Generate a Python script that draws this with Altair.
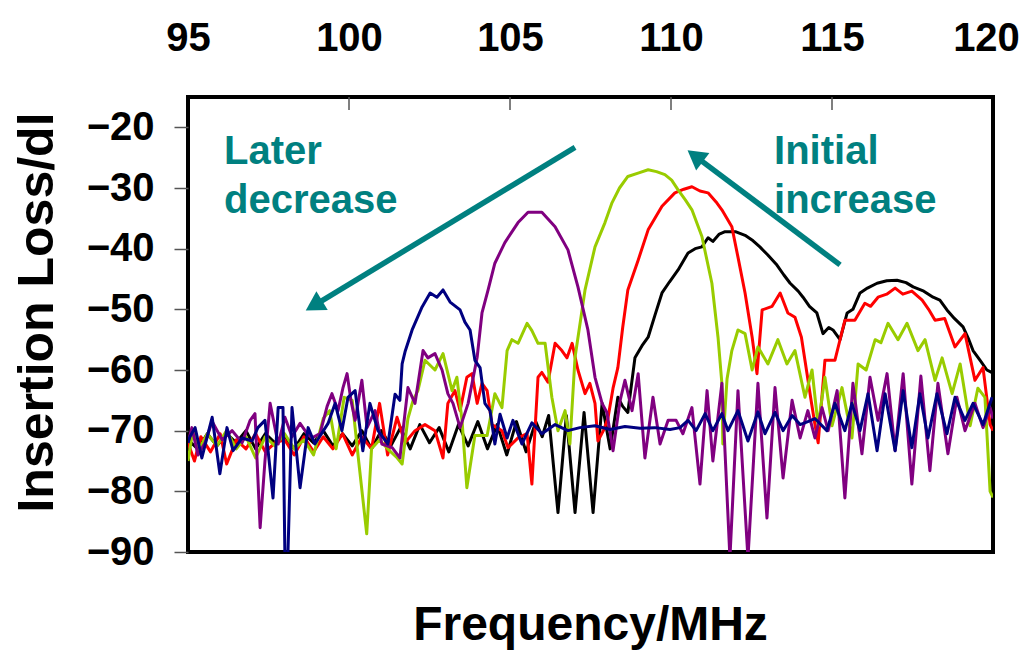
import altair as alt
import pandas as pd

# ---- data (frequency MHz, insertion loss dB) ----
BLACK = [(95.0,-71.5),(95.3,-73),(95.6,-70.5),(95.9,-72.5),(96.2,-70.5),(96.5,-72),(96.8,-70),(97.1,-73),(97.4,-70.5),(97.7,-72),(98.0,-71),(98.3,-73),(98.6,-70.5),(98.9,-72),(99.2,-70),(99.5,-72.5),(99.8,-70.5),(100.1,-72.5),(100.4,-70),(100.7,-73),(101.0,-70),(101.3,-72.5),(101.6,-69.5),(101.9,-73),(102.2,-69),(102.5,-72),(102.8,-69.5),(103.1,-73.5),(103.4,-69),(103.7,-72.5),(104.0,-68.5),(104.3,-73),(104.6,-69),(104.9,-74),(105.2,-68.5),(105.5,-73.5),(105.8,-68.5),(106.0,-71),(106.2,-67.5),(106.49,-83.5),(106.75,-67.5),(107.02,-83.5),(107.3,-67),(107.58,-83.5),(107.86,-65.5),(108.11,-73),(108.35,-64.5),(108.5,-66),(108.66,-67),(108.88,-58),(109.1,-56),(109.29,-54.6),(109.5,-51),(109.72,-47.3),(109.95,-45.5),(110.22,-43.5),(110.53,-40.7),(110.75,-40),(110.96,-39.7),(111.15,-38.2),(111.3,-38.8),(111.5,-37.6),(111.68,-37.2),(112.0,-37.2),(112.3,-37.8),(112.55,-38.7),(112.76,-39.7),(113.0,-41),(113.29,-42.7),(113.5,-44.3),(113.7,-45.7),(113.95,-47),(114.1,-48),(114.3,-49.5),(114.53,-50.6),(114.72,-54),(114.9,-53),(115.03,-53.4),(115.25,-55),(115.47,-50.6),(115.65,-50),(115.87,-47.3),(116.1,-46.5),(116.4,-45.7),(116.7,-45.3),(117.02,-45.2),(117.3,-45.6),(117.52,-46.3),(117.85,-47),(118.14,-48),(118.35,-48.5),(118.57,-50.1),(118.8,-51.5),(119.07,-52.9),(119.25,-55),(119.38,-56.8),(119.6,-58.4),(119.81,-60),(120.0,-60.5)]

RED = [(95.0,-72),(95.2,-75),(95.4,-71),(95.7,-73.5),(96.0,-70.5),(96.2,-75.5),(96.5,-71.5),(96.8,-73),(97.1,-70.5),(97.4,-73.5),(97.7,-72),(98.0,-71.5),(98.3,-74),(98.6,-71),(98.9,-73.5),(99.2,-71),(99.5,-73),(99.8,-70.5),(100.1,-74),(100.4,-71),(100.7,-73),(100.95,-65.5),(101.2,-74),(101.49,-67.8),(101.74,-72),(102.05,-70),(102.36,-69),(102.67,-70),(102.92,-74.5),(103.07,-65.5),(103.29,-63.4),(103.45,-66.7),(103.66,-61.2),(103.82,-60.6),(103.98,-65.5),(104.13,-62.2),(104.29,-63.4),(104.44,-69),(104.75,-70),(104.94,-72.8),(105.25,-71.2),(105.53,-70.5),(105.68,-78.8),(105.87,-61.2),(105.99,-60.4),(106.18,-62),(106.4,-55.6),(106.61,-56.8),(106.77,-58),(106.93,-55.6),(107.11,-60),(107.33,-63.9),(107.48,-62.2),(107.64,-65.5),(107.73,-71.7),(107.9,-70),(108.04,-68),(108.2,-63),(108.35,-59.6),(108.5,-53),(108.66,-46.8),(108.98,-41.9),(109.29,-36.9),(109.72,-33),(110.12,-30.8),(110.4,-30.2),(110.65,-29.8),(110.9,-30.5),(111.15,-30.8),(111.4,-32.3),(111.58,-33.6),(111.89,-36.4),(112.08,-41.4),(112.3,-47.3),(112.52,-54.6),(112.67,-60.6),(112.83,-50.1),(113.14,-49.5),(113.39,-47.3),(113.63,-50.6),(113.85,-51.3),(114.05,-54.6),(114.16,-58.4),(114.35,-65),(114.47,-69),(114.57,-72),(114.78,-58.4),(115.09,-58.4),(115.4,-51.8),(115.71,-51.8),(116.02,-49),(116.2,-49.5),(116.43,-48),(116.7,-47.5),(116.96,-46.5),(117.2,-47.5),(117.48,-47),(117.8,-48.5),(118.0,-50),(118.2,-51.8),(118.5,-51.5),(118.82,-56.2),(119.13,-54),(119.44,-61.7),(119.69,-59.6),(119.91,-69),(120.0,-70)]

GREEN = [(95.0,-75),(95.15,-70),(95.35,-73),(95.6,-70.5),(95.9,-72.5),(96.2,-70),(96.5,-73),(96.8,-71),(97.1,-74.5),(97.4,-71),(97.7,-72.5),(98.0,-70.5),(98.3,-73),(98.6,-71.5),(98.9,-74),(99.2,-68),(99.4,-66.7),(99.6,-73),(99.85,-64.5),(100.1,-65),(100.3,-75),(100.55,-87),(100.7,-73),(100.95,-71.5),(101.2,-73),(101.5,-74.5),(101.65,-75.5),(101.83,-68),(101.99,-65),(102.14,-63.4),(102.36,-58.4),(102.67,-60),(102.92,-57.3),(103.2,-63.4),(103.35,-61.2),(103.51,-68.3),(103.66,-79.4),(103.91,-70.8),(104.29,-70.8),(104.53,-63.9),(104.75,-66.2),(104.91,-56.8),(105.06,-55),(105.25,-55.6),(105.53,-52.3),(105.68,-53.5),(105.87,-55.6),(106.09,-55.6),(106.3,-64.5),(106.49,-70),(106.71,-66.7),(106.86,-72.2),(107.02,-57.9),(107.33,-46.8),(107.64,-39.7),(107.95,-35.7),(108.17,-32.4),(108.4,-30),(108.66,-28.1),(109.0,-27.5),(109.29,-27),(109.55,-27.3),(109.81,-27.8),(110.02,-28.7),(110.22,-30.3),(110.45,-32),(110.65,-33.6),(110.96,-38),(111.27,-45.7),(111.46,-54.6),(111.58,-62.2),(111.61,-72.2),(111.74,-61.5),(111.89,-56.8),(112.08,-53.4),(112.3,-54),(112.52,-60),(112.7,-56.2),(113.01,-59),(113.32,-55),(113.6,-59),(113.85,-56.8),(114.16,-64.5),(114.38,-60),(114.57,-69.2),(114.78,-61.2),(115.0,-69.2),(115.31,-62.9),(115.62,-71.2),(115.81,-59),(116.06,-60),(116.34,-55),(116.52,-55.5),(116.74,-52.3),(117.05,-55),(117.33,-52.3),(117.67,-56.8),(117.89,-55),(118.2,-61.7),(118.42,-58),(118.73,-63.9),(118.98,-59),(119.29,-69.2),(119.53,-63),(119.75,-64.5),(119.91,-80),(120.0,-81)]

PURPLE = [(95.0,-72),(95.12,-69.5),(95.31,-74),(95.53,-72),(95.75,-68.5),(96.06,-71.5),(96.37,-70),(96.68,-72),(96.93,-68.3),(97.08,-67.2),(97.24,-86),(97.39,-75),(97.55,-65.5),(97.8,-72.2),(98.01,-67.8),(98.23,-71),(98.48,-68.8),(98.7,-70.5),(98.85,-71.2),(99.1,-70.5),(99.32,-66),(99.47,-63.9),(99.66,-66.7),(99.81,-63),(99.94,-60.6),(100.06,-65),(100.19,-68.3),(100.4,-61.7),(100.56,-69.5),(100.81,-66.7),(101.02,-72.2),(101.34,-72.8),(101.58,-74.5),(101.83,-62.9),(102.05,-65.5),(102.3,-56.8),(102.45,-58),(102.67,-57.3),(102.89,-60),(103.07,-63.9),(103.23,-65.5),(103.45,-69.5),(103.7,-65.5),(103.98,-57.9),(104.13,-50.6),(104.32,-46.8),(104.53,-42.4),(104.84,-39),(105.25,-35.7),(105.56,-34),(105.99,-34),(106.4,-36.4),(106.8,-40.2),(107.11,-46.3),(107.42,-53.4),(107.64,-61.2),(107.86,-65.5),(108.01,-67),(108.2,-73.3),(108.42,-65),(108.57,-61.7),(108.79,-66.7),(108.98,-60.6),(109.19,-74.5),(109.44,-64.5),(109.66,-72.2),(109.91,-68.3),(110.16,-68.3),(110.37,-70.5),(110.65,-66.2),(110.9,-78.8),(111.12,-63.4),(111.3,-75),(111.58,-62.2),(111.83,-91),(112.08,-63.4),(112.39,-91),(112.7,-62.2),(112.98,-84.4),(113.23,-62.9),(113.48,-77.8),(113.76,-65),(114.01,-71.2),(114.25,-66.7),(114.47,-71.2),(114.69,-66.2),(114.88,-70),(115.16,-63.4),(115.4,-81.1),(115.65,-62.2),(115.93,-73.8),(116.18,-61.2),(116.43,-68.3),(116.71,-60.6),(116.96,-73.3),(117.21,-60.6),(117.48,-78.8),(117.76,-61),(118.04,-76.6),(118.29,-62.2),(118.6,-73.8),(118.88,-64.5),(119.13,-70),(119.44,-65.5),(119.69,-69.5),(119.91,-66.2),(120.0,-68)]

NAVY = [(95.0,-72),(95.06,-71),(95.22,-69.5),(95.43,-74.5),(95.75,-67.8),(95.99,-77.1),(96.21,-69.5),(96.4,-73.3),(96.68,-71.2),(96.99,-71.7),(97.17,-69.5),(97.39,-68.3),(97.64,-81.1),(97.8,-66.2),(97.95,-66.2),(98.01,-91),(98.1,-91),(98.23,-66.2),(98.48,-79.4),(98.73,-69.5),(98.94,-72.2),(99.35,-68.8),(99.57,-65.5),(99.78,-70),(99.97,-64.5),(100.19,-63.4),(100.43,-73.3),(100.65,-65.5),(100.9,-70),(101.21,-72.2),(101.43,-64),(101.58,-65),(101.65,-59),(101.74,-57),(101.96,-53.4),(102.27,-49.6),(102.52,-47.3),(102.73,-48),(102.92,-46.8),(103.14,-48.8),(103.45,-50.1),(103.6,-52.1),(103.76,-53.4),(103.91,-58.4),(104.07,-59.6),(104.22,-65.5),(104.38,-66.7),(104.53,-72.2),(104.69,-67.3),(104.91,-71.2),(105.09,-68.3),(105.37,-72.2),(105.68,-68.7),(105.99,-70.5),(106.4,-69),(106.8,-70),(107.17,-69.5),(107.64,-69.2),(108.11,-69.8),(108.57,-69.3),(109.04,-69.6),(109.5,-69.5),(109.97,-69.8),(110.28,-69.5),(110.53,-68.3),(110.78,-70),(111.06,-67.2),(111.3,-70),(111.58,-67.2),(111.77,-70),(112.08,-66.7),(112.39,-71.7),(112.7,-66.9),(112.92,-70.5),(113.23,-67),(113.48,-70),(113.76,-67.5),(114.01,-69),(114.25,-68.5),(114.47,-68),(114.84,-70),(115.09,-65.5),(115.4,-70),(115.62,-65.5),(115.87,-70),(116.12,-63.9),(116.4,-73.3),(116.65,-63.9),(116.96,-73.3),(117.21,-63.4),(117.48,-72.8),(117.73,-63.9),(117.98,-71.2),(118.26,-63.9),(118.57,-70.5),(118.82,-64.5),(119.13,-68.3),(119.38,-65.5),(119.69,-69),(119.97,-64.5)]

SERIES = [("black", BLACK, "#000000"), ("red", RED, "#FF0000"), ("green", GREEN, "#99CC00"),
          ("purple", PURPLE, "#800080"), ("navy", NAVY, "#000080")]

X_TICKS = [95, 100, 105, 110, 115, 120]
Y_TICKS = [-20, -30, -40, -50, -60, -70, -80, -90]
INNER_TICKS = [100, 105, 110, 115]

# annotations (data coordinates)
NOTE_TEXT = ["Later", "decrease", "Initial", "increase"]
NOTE_X = [96.12, 96.12, 113.2, 113.2]
NOTE_Y = [-26.1, -34.07, -26.1, -34.07]
ARROW_X = [107.02, 115.25]
ARROW_Y = [-23.31, -42.68]
ARROW_X2 = [98.91, 110.75]
ARROW_Y2 = [-49.38, -24.74]
ARROW_ANGLE = [239, 307]

TEAL = "#008080"
FONT = "Liberation Sans"

xscale = alt.Scale(domain=[95, 120], nice=False, zero=False)
yscale = alt.Scale(domain=[-90, -15], nice=False, zero=False)

x_enc = alt.X("f:Q", scale=xscale,
              axis=alt.Axis(orient="top", values=X_TICKS, ticks=False, tickSize=0,
                            labelPadding=39, labelFlush=False, labelOverlap=False,
                            labelOffset={"condition": {"test": "datum.value == 120", "value": -7}, "value": 0},
                            title=None, domain=False, grid=False))
y_enc = alt.Y("v:Q", scale=yscale,
              axis=alt.Axis(values=Y_TICKS, tickSize=14, tickWidth=1.5, tickColor="#555555",
                            labelPadding=20, labelFlush=False, labelOverlap=False,
                            domain=False, grid=False,
                            title="Insertion Loss/dl", titleFontSize=50, titleFont=FONT,
                            titleFontWeight="bold", titleColor="black",
                            titleX=-136, titleY=215, titleBaseline="alphabetic",
                            titleAlign="center", titleAngle=270))

layers = []
for name, pts, col in SERIES:
    df = pd.DataFrame(pts, columns=["f", "v"])
    layers.append(alt.Chart(df).mark_line(color=col, strokeWidth=3, clip=True,
                                          strokeJoin="round").encode(x=x_enc, y=y_enc))

inner = alt.Chart(pd.DataFrame({"f": INNER_TICKS})).mark_rule(
    color="#555555", strokeWidth=1.5).encode(x=alt.X("f:Q", scale=xscale), y=alt.value(0), y2=alt.value(13))

arrows_df = pd.DataFrame({"f": ARROW_X, "v": ARROW_Y, "f2": ARROW_X2, "v2": ARROW_Y2, "ang": ARROW_ANGLE})
arrow_lines = alt.Chart(arrows_df).mark_rule(color=TEAL, strokeWidth=5.5).encode(
    x=alt.X("f:Q", scale=xscale), y=alt.Y("v:Q", scale=yscale), x2="f2:Q", y2="v2:Q")
arrow_heads = alt.Chart(arrows_df).mark_point(shape="triangle-up", filled=True, size=484,
                                              color=TEAL, opacity=1).encode(
    x=alt.X("f2:Q", scale=xscale), y=alt.Y("v2:Q", scale=yscale),
    angle=alt.Angle("ang:Q", scale=None))

notes = alt.Chart(pd.DataFrame({"f": NOTE_X, "v": NOTE_Y, "t": NOTE_TEXT})).mark_text(
    align="left", baseline="alphabetic", font=FONT, fontSize=40, fontWeight="bold", color=TEAL
).encode(x=alt.X("f:Q", scale=xscale), y=alt.Y("v:Q", scale=yscale), text="t:N")

chart = alt.layer(*layers, inner, arrow_lines, arrow_heads, notes).properties(
    width=805, height=455,
    autosize=alt.AutoSizeParams(type="none"),
    padding={"left": 180, "top": 89, "right": 28, "bottom": 103},
    title=alt.TitleParams("Frequency/MHz", orient="bottom", anchor="middle", fontSize=48,
                          font=FONT, fontWeight="bold", color="black", offset=30),
).configure_view(stroke="black", strokeWidth=4).configure_axis(
    labelFont=FONT, labelFontSize=40, labelFontWeight="bold", labelColor="black"
)

chart.save("out.html", embed_options={"renderer": "svg", "actions": False})
